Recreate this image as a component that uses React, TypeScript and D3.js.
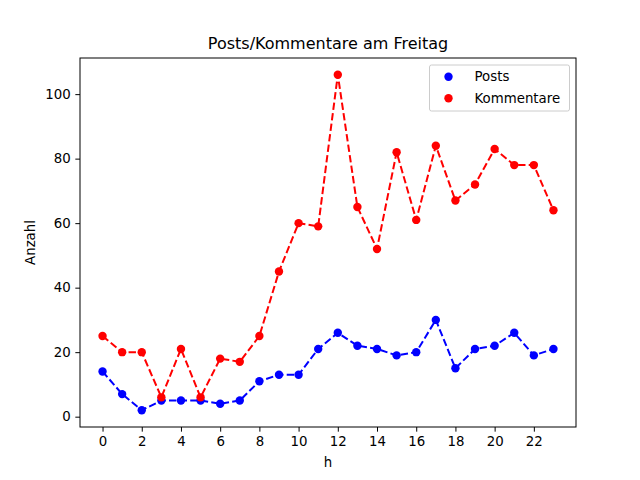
import * as d3 from "d3";
import { useEffect, useRef } from "react";

const hours = d3.range(0, 24);
const posts = [14, 7, 2, 5, 5, 5, 4, 5, 11, 13, 13, 21, 26, 22, 21, 19, 20, 30, 15, 21, 22, 26, 19, 21];
const kommentare = [25, 20, 20, 6, 21, 6, 18, 17, 25, 45, 60, 59, 106, 65, 52, 82, 61, 84, 67, 72, 83, 78, 78, 64];
const xTicks = d3.range(0, 24, 2);
const yTicks = [0, 20, 40, 60, 80, 100];
const series = [
  { name: "Posts", values: posts, color: "#0000ff" },
  { name: "Kommentare", values: kommentare, color: "#ff0000" },
];

function App() {
  const ref = useRef<SVGSVGElement>(null);

  useEffect(() => {
    const width = 640;
    const height = 480;
    const m = { left: 80, right: 64, top: 58, bottom: 53 };
    const font = "DejaVu Sans, sans-serif";

    const svg = d3.select(ref.current!);
    svg.selectAll("*").remove();

    const x = d3.scaleLinear().domain([-1.15, 24.15]).range([m.left, width - m.right]);
    const y = d3.scaleLinear().domain([-3.2, 111.2]).range([height - m.bottom, m.top]);

    svg.append("rect").attr("width", width).attr("height", height).attr("fill", "white");

    const line = d3.line<number>()
      .x((_, i) => x(hours[i]))
      .y(d => y(d));

    for (const s of series) {
      svg.append("path")
        .attr("d", line(s.values))
        .attr("fill", "none")
        .attr("stroke", s.color)
        .attr("stroke-width", 2)
        .attr("stroke-dasharray", "7.4,3.2");
    }
    for (const s of series) {
      svg.append("g")
        .selectAll("circle")
        .data(s.values)
        .join("circle")
        .attr("cx", (_, i) => x(hours[i]))
        .attr("cy", d => y(d))
        .attr("r", 4.2)
        .attr("fill", s.color);
    }

    // frame
    svg.append("rect")
      .attr("x", m.left)
      .attr("y", m.top)
      .attr("width", width - m.left - m.right)
      .attr("height", height - m.top - m.bottom)
      .attr("fill", "none")
      .attr("stroke", "black")
      .attr("stroke-width", 1);

    const xAxis = svg.append("g")
      .attr("transform", `translate(0,${height - m.bottom})`)
      .call(d3.axisBottom(x).tickValues(xTicks).tickSize(4.67).tickPadding(4.7));
    const yAxis = svg.append("g")
      .attr("transform", `translate(${m.left},0)`)
      .call(d3.axisLeft(y).tickValues(yTicks).tickSize(4.67).tickPadding(4.7));
    for (const a of [xAxis, yAxis]) {
      a.select(".domain").remove();
      a.selectAll("text").attr("font-family", font).attr("font-size", 13.33).attr("fill", "black");
      a.selectAll("line").attr("stroke", "black");
    }

    svg.append("text")
      .attr("x", (m.left + width - m.right) / 2)
      .attr("y", 467)
      .attr("text-anchor", "middle")
      .attr("font-family", font)
      .attr("font-size", 13.33)
      .text("h");

    svg.append("text")
      .attr("transform", `translate(35,${(m.top + height - m.bottom) / 2}) rotate(-90)`)
      .attr("text-anchor", "middle")
      .attr("font-family", font)
      .attr("font-size", 13.33)
      .text("Anzahl");

    svg.append("text")
      .attr("x", (m.left + width - m.right) / 2)
      .attr("y", 49)
      .attr("text-anchor", "middle")
      .attr("font-family", font)
      .attr("font-size", 16)
      .text("Posts/Kommentare am Freitag");

    // legend
    const lg = svg.append("g").attr("transform", "translate(429.5,65)");
    lg.append("rect")
      .attr("width", 140)
      .attr("height", 46)
      .attr("rx", 2)
      .attr("fill", "white")
      .attr("fill-opacity", 0.8)
      .attr("stroke", "#cccccc");
    series.forEach((s, i) => {
      lg.append("circle").attr("cx", 19).attr("cy", 11.7 + i * 21.6).attr("r", 4.2).attr("fill", s.color);
      lg.append("text")
        .attr("x", 45)
        .attr("y", 11.7 + i * 21.6)
        .attr("dy", "0.35em")
        .attr("font-family", font)
        .attr("font-size", 13.33)
        .text(s.name);
    });
  }, []);

  return (
    <svg ref={ref} width={640} height={480} style={{ position: "absolute", left: 0, top: 0 }} />
  );
}

export default App;
